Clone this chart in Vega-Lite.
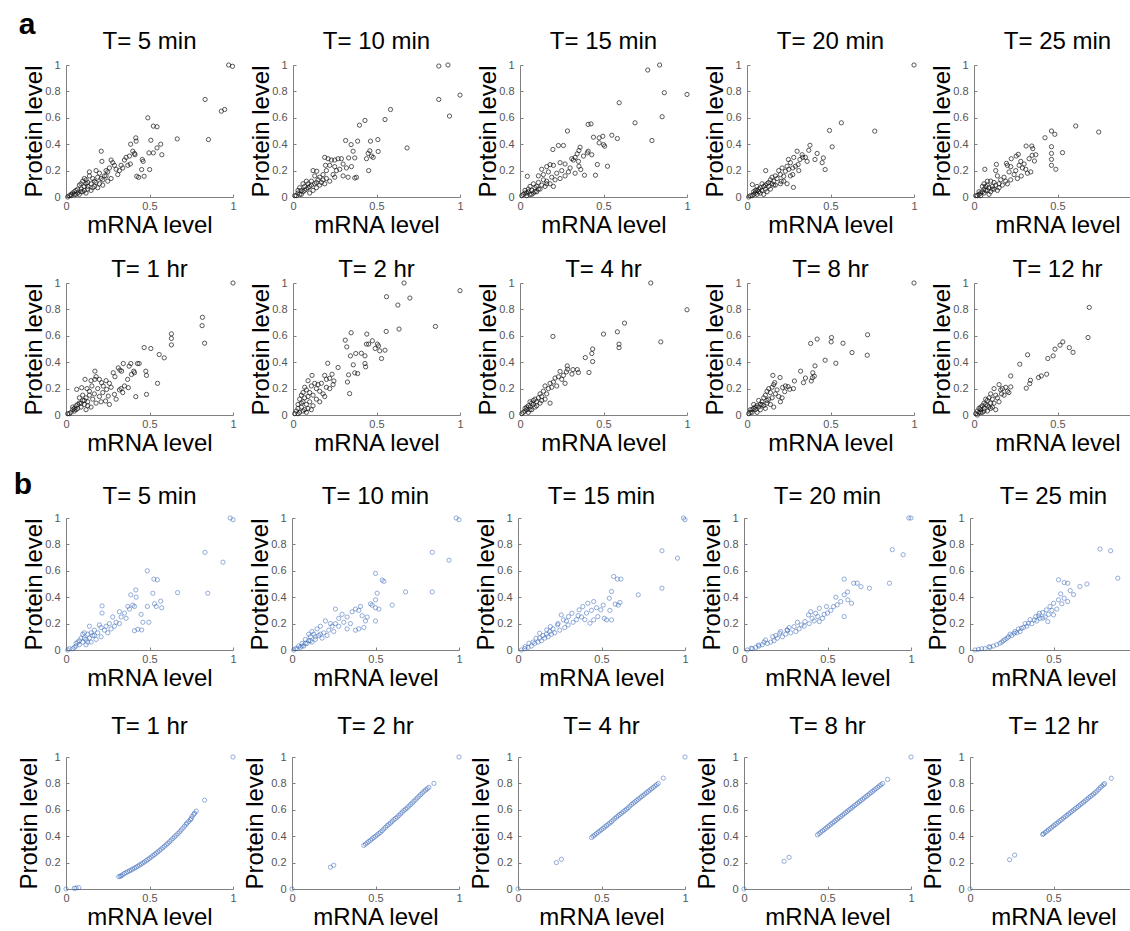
{
"$schema":"https://vega.github.io/schema/vega-lite/v6.json",
"padding":{"left":13,"top":10,"right":0,"bottom":0},
"config":{"view":{"stroke":null},"font":"Liberation Sans",
"axis":{"grid":false,"domainColor":"#808080","tickColor":"#808080","labelColor":"#555555","labelFontSize":11,"titleFontSize":24,"titleFontWeight":"normal","titleColor":"#000000","tickSize":-3,"labelFont":"Liberation Sans","titleFont":"Liberation Sans"},
"header":{"labelFontSize":24,"labelColor":"#000000","labelFont":"Liberation Sans","title":null},
"title":{"fontSize":30,"fontWeight":"bold","anchor":"start","color":"#000000","font":"Liberation Sans"}},
"datasets":{"pts":[
{"p":1,"x":0.974,"y":1},{"p":1,"x":0.997,"y":0.99},{"p":1,"x":0.833,"y":0.739},{"p":1,"x":0.93,"y":0.65},{"p":1,"x":0.95,"y":0.663},{"p":1,"x":0.853,"y":0.435},{"p":1,"x":0.666,"y":0.44},{"p":1,"x":0.49,"y":0.6},{"p":1,"x":0.523,"y":0.537},{"p":1,"x":0.545,"y":0.532},{"p":1,"x":0.508,"y":0.43},{"p":1,"x":0.567,"y":0.4},{"p":1,"x":0.545,"y":0.372},{"p":1,"x":0.523,"y":0.334},{"p":1,"x":0.497,"y":0.334},{"p":1,"x":0.574,"y":0.32},{"p":1,"x":0.501,"y":0.208},{"p":1,"x":0.468,"y":0.157},{"p":1,"x":0.435,"y":0.149},{"p":1,"x":0.424,"y":0.157},{"p":1,"x":0.453,"y":0.208},{"p":1,"x":0.457,"y":0.284},{"p":1,"x":0.462,"y":0.27},{"p":1,"x":0.418,"y":0.448},{"p":1,"x":0.42,"y":0.423},{"p":1,"x":0.387,"y":0.4},{"p":1,"x":0.4,"y":0.347},{"p":1,"x":0.413,"y":0.32},{"p":1,"x":0.41,"y":0.33},{"p":1,"x":0.38,"y":0.31},{"p":1,"x":0.36,"y":0.3},{"p":1,"x":0.35,"y":0.28},{"p":1,"x":0.37,"y":0.24},{"p":1,"x":0.385,"y":0.25},{"p":1,"x":0.34,"y":0.22},{"p":1,"x":0.33,"y":0.24},{"p":1,"x":0.32,"y":0.2},{"p":1,"x":0.31,"y":0.17},{"p":1,"x":0.3,"y":0.21},{"p":1,"x":0.29,"y":0.24},{"p":1,"x":0.28,"y":0.26},{"p":1,"x":0.27,"y":0.28},{"p":1,"x":0.26,"y":0.22},{"p":1,"x":0.25,"y":0.19},{"p":1,"x":0.24,"y":0.2},{"p":1,"x":0.211,"y":0.347},{"p":1,"x":0.215,"y":0.27},{"p":1,"x":0.23,"y":0.16},{"p":1,"x":0.22,"y":0.13},{"p":1,"x":0.2,"y":0.18},{"p":1,"x":0.19,"y":0.15},{"p":1,"x":0.18,"y":0.2},{"p":1,"x":0.17,"y":0.12},{"p":1,"x":0.16,"y":0.14},{"p":1,"x":0.15,"y":0.1},{"p":1,"x":0.14,"y":0.16},{"p":1,"x":0.13,"y":0.11},{"p":1,"x":0.12,"y":0.13},{"p":1,"x":0.11,"y":0.08},{"p":1,"x":0.1,"y":0.12},{"p":1,"x":0.09,"y":0.06},{"p":1,"x":0.1,"y":0.04},{"p":1,"x":0.08,"y":0.09},{"p":1,"x":0.07,"y":0.03},{"p":1,"x":0.06,"y":0.05},{"p":1,"x":0.05,"y":0.02},{"p":1,"x":0.04,"y":0.03},{"p":1,"x":0.03,"y":0.01},{"p":1,"x":0.02,"y":0.01},{"p":1,"x":0.01,"y":0},{"p":1,"x":0.13,"y":0.06},{"p":1,"x":0.15,"y":0.05},{"p":1,"x":0.17,"y":0.08},{"p":1,"x":0.12,"y":0.03},{"p":1,"x":0.08,"y":0.02},{"p":1,"x":0.2,"y":0.1},{"p":1,"x":0.22,"y":0.09},{"p":1,"x":0.19,"y":0.07},{"p":1,"x":0.25,"y":0.12},{"p":1,"x":0.27,"y":0.14},{"p":1,"x":0.14,"y":0.19},{"p":1,"x":0.09,"y":0.1},{"p":1,"x":0.11,"y":0.14},{"p":1,"x":0.06,"y":0.02},{"p":1,"x":0.07,"y":0.06},{"p":1,"x":0.09,"y":0.04},{"p":1,"x":0.11,"y":0.05},{"p":1,"x":0.13,"y":0.08},{"p":1,"x":0.16,"y":0.07},{"p":1,"x":0.18,"y":0.11},{"p":1,"x":0.05,"y":0.04},{"p":1,"x":0.03,"y":0.02},{"p":1,"x":0.12,"y":0.1},{"p":1,"x":0.21,"y":0.14},{"p":1,"x":0.24,"y":0.16},
{"p":2,"x":0.873,"y":0.992},{"p":2,"x":0.928,"y":1},{"p":2,"x":0.873,"y":0.739},{"p":2,"x":0.937,"y":0.613},{"p":2,"x":1,"y":0.772},{"p":2,"x":0.683,"y":0.372},{"p":2,"x":0.584,"y":0.663},{"p":2,"x":0.551,"y":0.587},{"p":2,"x":0.398,"y":0.544},{"p":2,"x":0.431,"y":0.58},{"p":2,"x":0.315,"y":0.428},{"p":2,"x":0.348,"y":0.397},{"p":2,"x":0.387,"y":0.423},{"p":2,"x":0.464,"y":0.423},{"p":2,"x":0.508,"y":0.435},{"p":2,"x":0.46,"y":0.35},{"p":2,"x":0.45,"y":0.33},{"p":2,"x":0.47,"y":0.31},{"p":2,"x":0.44,"y":0.29},{"p":2,"x":0.48,"y":0.3},{"p":2,"x":0.51,"y":0.345},{"p":2,"x":0.453,"y":0.2},{"p":2,"x":0.36,"y":0.347},{"p":2,"x":0.37,"y":0.296},{"p":2,"x":0.333,"y":0.296},{"p":2,"x":0.32,"y":0.22},{"p":2,"x":0.37,"y":0.144},{"p":2,"x":0.38,"y":0.149},{"p":2,"x":0.19,"y":0.3},{"p":2,"x":0.21,"y":0.29},{"p":2,"x":0.23,"y":0.28},{"p":2,"x":0.25,"y":0.28},{"p":2,"x":0.27,"y":0.29},{"p":2,"x":0.29,"y":0.29},{"p":2,"x":0.195,"y":0.24},{"p":2,"x":0.22,"y":0.24},{"p":2,"x":0.142,"y":0.195},{"p":2,"x":0.12,"y":0.2},{"p":2,"x":0.3,"y":0.25},{"p":2,"x":0.28,"y":0.21},{"p":2,"x":0.26,"y":0.2},{"p":2,"x":0.24,"y":0.17},{"p":2,"x":0.3,"y":0.16},{"p":2,"x":0.33,"y":0.15},{"p":2,"x":0.35,"y":0.23},{"p":2,"x":0.25,"y":0.23},{"p":2,"x":0.2,"y":0.2},{"p":2,"x":0.18,"y":0.17},{"p":2,"x":0.16,"y":0.15},{"p":2,"x":0.2,"y":0.14},{"p":2,"x":0.17,"y":0.11},{"p":2,"x":0.15,"y":0.13},{"p":2,"x":0.13,"y":0.1},{"p":2,"x":0.11,"y":0.12},{"p":2,"x":0.1,"y":0.08},{"p":2,"x":0.09,"y":0.1},{"p":2,"x":0.08,"y":0.06},{"p":2,"x":0.07,"y":0.08},{"p":2,"x":0.06,"y":0.04},{"p":2,"x":0.05,"y":0.05},{"p":2,"x":0.04,"y":0.02},{"p":2,"x":0.03,"y":0.03},{"p":2,"x":0.02,"y":0.01},{"p":2,"x":0.01,"y":0.01},{"p":2,"x":0.12,"y":0.05},{"p":2,"x":0.14,"y":0.07},{"p":2,"x":0.16,"y":0.09},{"p":2,"x":0.1,"y":0.03},{"p":2,"x":0.08,"y":0.12},{"p":2,"x":0.06,"y":0.1},{"p":2,"x":0.22,"y":0.12},{"p":2,"x":0.19,"y":0.1},{"p":2,"x":0.25,"y":0.15},{"p":2,"x":0.13,"y":0.16},{"p":2,"x":0.05,"y":0.02},{"p":2,"x":0.07,"y":0.05},{"p":2,"x":0.09,"y":0.07},{"p":2,"x":0.11,"y":0.09},{"p":2,"x":0.14,"y":0.11},{"p":2,"x":0.03,"y":0.05},{"p":2,"x":0.04,"y":0.07},{"p":2,"x":0.18,"y":0.13},
{"p":3,"x":0.765,"y":0.962},{"p":3,"x":0.836,"y":1},{"p":3,"x":0.864,"y":0.79},{"p":3,"x":1,"y":0.777},{"p":3,"x":0.851,"y":0.608},{"p":3,"x":0.594,"y":0.714},{"p":3,"x":0.689,"y":0.562},{"p":3,"x":0.79,"y":0.428},{"p":3,"x":0.524,"y":0.233},{"p":3,"x":0.452,"y":0.165},{"p":3,"x":0.55,"y":0.468},{"p":3,"x":0.583,"y":0.443},{"p":3,"x":0.496,"y":0.46},{"p":3,"x":0.474,"y":0.41},{"p":3,"x":0.5,"y":0.397},{"p":3,"x":0.507,"y":0.385},{"p":3,"x":0.44,"y":0.453},{"p":3,"x":0.474,"y":0.448},{"p":3,"x":0.408,"y":0.55},{"p":3,"x":0.425,"y":0.554},{"p":3,"x":0.403,"y":0.334},{"p":3,"x":0.408,"y":0.347},{"p":3,"x":0.463,"y":0.246},{"p":3,"x":0.364,"y":0.208},{"p":3,"x":0.353,"y":0.233},{"p":3,"x":0.386,"y":0.165},{"p":3,"x":0.353,"y":0.352},{"p":3,"x":0.342,"y":0.327},{"p":3,"x":0.36,"y":0.377},{"p":3,"x":0.31,"y":0.29},{"p":3,"x":0.33,"y":0.3},{"p":3,"x":0.32,"y":0.28},{"p":3,"x":0.284,"y":0.5},{"p":3,"x":0.197,"y":0.36},{"p":3,"x":0.23,"y":0.39},{"p":3,"x":0.26,"y":0.39},{"p":3,"x":0.13,"y":0.21},{"p":3,"x":0.16,"y":0.23},{"p":3,"x":0.18,"y":0.245},{"p":3,"x":0.044,"y":0.157},{"p":3,"x":0.11,"y":0.16},{"p":3,"x":0.14,"y":0.17},{"p":3,"x":0.2,"y":0.24},{"p":3,"x":0.24,"y":0.26},{"p":3,"x":0.27,"y":0.25},{"p":3,"x":0.3,"y":0.22},{"p":3,"x":0.29,"y":0.19},{"p":3,"x":0.25,"y":0.2},{"p":3,"x":0.22,"y":0.18},{"p":3,"x":0.19,"y":0.15},{"p":3,"x":0.16,"y":0.12},{"p":3,"x":0.21,"y":0.13},{"p":3,"x":0.24,"y":0.14},{"p":3,"x":0.27,"y":0.16},{"p":3,"x":0.13,"y":0.09},{"p":3,"x":0.11,"y":0.11},{"p":3,"x":0.09,"y":0.07},{"p":3,"x":0.08,"y":0.1},{"p":3,"x":0.07,"y":0.05},{"p":3,"x":0.06,"y":0.08},{"p":3,"x":0.05,"y":0.04},{"p":3,"x":0.04,"y":0.03},{"p":3,"x":0.03,"y":0.05},{"p":3,"x":0.02,"y":0.02},{"p":3,"x":0.01,"y":0.01},{"p":3,"x":0.1,"y":0.04},{"p":3,"x":0.12,"y":0.06},{"p":3,"x":0.15,"y":0.08},{"p":3,"x":0.18,"y":0.1},{"p":3,"x":0.2,"y":0.08},{"p":3,"x":0.14,"y":0.13},{"p":3,"x":0.17,"y":0.19},{"p":3,"x":0.06,"y":0.02},{"p":3,"x":0.08,"y":0.03},{"p":3,"x":0.35,"y":0.27},{"p":3,"x":0.38,"y":0.31},{"p":3,"x":0.43,"y":0.32},{"p":3,"x":0.33,"y":0.18},{"p":3,"x":0.04,"y":0.01},{"p":3,"x":0.07,"y":0.02},{"p":3,"x":0.09,"y":0.04},{"p":3,"x":0.11,"y":0.06},{"p":3,"x":0.03,"y":0.03},{"p":3,"x":0.05,"y":0.06},{"p":3,"x":0.1,"y":0.08},{"p":3,"x":0.16,"y":0.1},
{"p":4,"x":1,"y":1},{"p":4,"x":0.565,"y":0.562},{"p":4,"x":0.494,"y":0.504},{"p":4,"x":0.765,"y":0.499},{"p":4,"x":0.51,"y":0.38},{"p":4,"x":0.468,"y":0.208},{"p":4,"x":0.457,"y":0.296},{"p":4,"x":0.407,"y":0.284},{"p":4,"x":0.377,"y":0.392},{"p":4,"x":0.37,"y":0.354},{"p":4,"x":0.33,"y":0.32},{"p":4,"x":0.317,"y":0.284},{"p":4,"x":0.334,"y":0.3},{"p":4,"x":0.306,"y":0.246},{"p":4,"x":0.29,"y":0.233},{"p":4,"x":0.3,"y":0.347},{"p":4,"x":0.248,"y":0.284},{"p":4,"x":0.24,"y":0.233},{"p":4,"x":0.274,"y":0.22},{"p":4,"x":0.274,"y":0.17},{"p":4,"x":0.278,"y":0.073},{"p":4,"x":0.23,"y":0.195},{"p":4,"x":0.22,"y":0.157},{"p":4,"x":0.205,"y":0.119},{"p":4,"x":0.112,"y":0.2},{"p":4,"x":0.032,"y":0.094},{"p":4,"x":0.26,"y":0.26},{"p":4,"x":0.28,"y":0.3},{"p":4,"x":0.35,"y":0.3},{"p":4,"x":0.36,"y":0.27},{"p":4,"x":0.25,"y":0.21},{"p":4,"x":0.2,"y":0.17},{"p":4,"x":0.19,"y":0.2},{"p":4,"x":0.18,"y":0.14},{"p":4,"x":0.17,"y":0.16},{"p":4,"x":0.16,"y":0.12},{"p":4,"x":0.15,"y":0.1},{"p":4,"x":0.14,"y":0.13},{"p":4,"x":0.13,"y":0.08},{"p":4,"x":0.12,"y":0.1},{"p":4,"x":0.11,"y":0.06},{"p":4,"x":0.1,"y":0.08},{"p":4,"x":0.09,"y":0.05},{"p":4,"x":0.08,"y":0.07},{"p":4,"x":0.07,"y":0.04},{"p":4,"x":0.06,"y":0.05},{"p":4,"x":0.05,"y":0.03},{"p":4,"x":0.04,"y":0.02},{"p":4,"x":0.03,"y":0.01},{"p":4,"x":0.02,"y":0.01},{"p":4,"x":0.01,"y":0},{"p":4,"x":0.12,"y":0.04},{"p":4,"x":0.14,"y":0.06},{"p":4,"x":0.17,"y":0.09},{"p":4,"x":0.2,"y":0.1},{"p":4,"x":0.22,"y":0.12},{"p":4,"x":0.09,"y":0.1},{"p":4,"x":0.06,"y":0.08},{"p":4,"x":0.15,"y":0.15},{"p":4,"x":0.21,"y":0.22},{"p":4,"x":0.26,"y":0.16},{"p":4,"x":0.31,"y":0.2},{"p":4,"x":0.24,"y":0.1},{"p":4,"x":0.1,"y":0.02},{"p":4,"x":0.08,"y":0.03},{"p":4,"x":0.42,"y":0.33},{"p":4,"x":0.45,"y":0.26},{"p":4,"x":0.05,"y":0.05},{"p":4,"x":0.07,"y":0.06},{"p":4,"x":0.11,"y":0.09},{"p":4,"x":0.13,"y":0.11},{"p":4,"x":0.04,"y":0.04},{"p":4,"x":0.06,"y":0.02},{"p":4,"x":0.16,"y":0.09},
{"p":5,"x":0.747,"y":0.492},{"p":5,"x":0.609,"y":0.538},{"p":5,"x":0.464,"y":0.5},{"p":5,"x":0.484,"y":0.475},{"p":5,"x":0.425,"y":0.449},{"p":5,"x":0.464,"y":0.381},{"p":5,"x":0.464,"y":0.33},{"p":5,"x":0.53,"y":0.336},{"p":5,"x":0.464,"y":0.285},{"p":5,"x":0.464,"y":0.24},{"p":5,"x":0.49,"y":0.21},{"p":5,"x":0.312,"y":0.386},{"p":5,"x":0.346,"y":0.386},{"p":5,"x":0.352,"y":0.366},{"p":5,"x":0.348,"y":0.316},{"p":5,"x":0.362,"y":0.273},{"p":5,"x":0.283,"y":0.159},{"p":5,"x":0.265,"y":0.323},{"p":5,"x":0.253,"y":0.31},{"p":5,"x":0.223,"y":0.29},{"p":5,"x":0.194,"y":0.255},{"p":5,"x":0.2,"y":0.24},{"p":5,"x":0.22,"y":0.23},{"p":5,"x":0.134,"y":0.247},{"p":5,"x":0.065,"y":0.21},{"p":5,"x":0.32,"y":0.18},{"p":5,"x":0.34,"y":0.19},{"p":5,"x":0.31,"y":0.21},{"p":5,"x":0.29,"y":0.22},{"p":5,"x":0.3,"y":0.25},{"p":5,"x":0.27,"y":0.24},{"p":5,"x":0.25,"y":0.2},{"p":5,"x":0.24,"y":0.17},{"p":5,"x":0.21,"y":0.19},{"p":5,"x":0.18,"y":0.15},{"p":5,"x":0.19,"y":0.12},{"p":5,"x":0.16,"y":0.13},{"p":5,"x":0.15,"y":0.1},{"p":5,"x":0.14,"y":0.16},{"p":5,"x":0.12,"y":0.11},{"p":5,"x":0.11,"y":0.08},{"p":5,"x":0.1,"y":0.12},{"p":5,"x":0.09,"y":0.07},{"p":5,"x":0.08,"y":0.09},{"p":5,"x":0.07,"y":0.05},{"p":5,"x":0.06,"y":0.06},{"p":5,"x":0.05,"y":0.04},{"p":5,"x":0.04,"y":0.03},{"p":5,"x":0.03,"y":0.02},{"p":5,"x":0.02,"y":0.01},{"p":5,"x":0.01,"y":0.01},{"p":5,"x":0.1,"y":0.04},{"p":5,"x":0.12,"y":0.06},{"p":5,"x":0.15,"y":0.07},{"p":5,"x":0.17,"y":0.09},{"p":5,"x":0.2,"y":0.1},{"p":5,"x":0.22,"y":0.13},{"p":5,"x":0.08,"y":0.12},{"p":5,"x":0.06,"y":0.1},{"p":5,"x":0.13,"y":0.2},{"p":5,"x":0.26,"y":0.14},{"p":5,"x":0.33,"y":0.29},{"p":5,"x":0.37,"y":0.32},{"p":5,"x":0.28,"y":0.27},{"p":5,"x":0.05,"y":0.08},{"p":5,"x":0.09,"y":0.02},{"p":5,"x":0.04,"y":0.01},{"p":5,"x":0.06,"y":0.03},{"p":5,"x":0.08,"y":0.05},{"p":5,"x":0.11,"y":0.06},{"p":5,"x":0.13,"y":0.09},{"p":5,"x":0.03,"y":0.04},{"p":5,"x":0.07,"y":0.08},{"p":5,"x":0.14,"y":0.05},
{"p":6,"x":1,"y":1},{"p":6,"x":0.817,"y":0.74},{"p":6,"x":0.815,"y":0.677},{"p":6,"x":0.83,"y":0.544},{"p":6,"x":0.631,"y":0.615},{"p":6,"x":0.631,"y":0.58},{"p":6,"x":0.631,"y":0.531},{"p":6,"x":0.558,"y":0.458},{"p":6,"x":0.588,"y":0.433},{"p":6,"x":0.548,"y":0.24},{"p":6,"x":0.468,"y":0.511},{"p":6,"x":0.508,"y":0.504},{"p":6,"x":0.478,"y":0.332},{"p":6,"x":0.482,"y":0.3},{"p":6,"x":0.428,"y":0.39},{"p":6,"x":0.438,"y":0.39},{"p":6,"x":0.388,"y":0.39},{"p":6,"x":0.378,"y":0.37},{"p":6,"x":0.406,"y":0.332},{"p":6,"x":0.41,"y":0.32},{"p":6,"x":0.482,"y":0.156},{"p":6,"x":0.418,"y":0.139},{"p":6,"x":0.343,"y":0.39},{"p":6,"x":0.313,"y":0.357},{"p":6,"x":0.323,"y":0.34},{"p":6,"x":0.333,"y":0.332},{"p":6,"x":0.293,"y":0.29},{"p":6,"x":0.283,"y":0.32},{"p":6,"x":0.392,"y":0.307},{"p":6,"x":0.369,"y":0.27},{"p":6,"x":0.373,"y":0.207},{"p":6,"x":0.33,"y":0.2},{"p":6,"x":0.34,"y":0.17},{"p":6,"x":0.32,"y":0.19},{"p":6,"x":0.35,"y":0.22},{"p":6,"x":0.29,"y":0.156},{"p":6,"x":0.253,"y":0.143},{"p":6,"x":0.237,"y":0.106},{"p":6,"x":0.243,"y":0.194},{"p":6,"x":0.223,"y":0.219},{"p":6,"x":0.213,"y":0.244},{"p":6,"x":0.173,"y":0.332},{"p":6,"x":0.173,"y":0.27},{"p":6,"x":0.18,"y":0.29},{"p":6,"x":0.2,"y":0.27},{"p":6,"x":0.15,"y":0.26},{"p":6,"x":0.155,"y":0.22},{"p":6,"x":0.126,"y":0.2},{"p":6,"x":0.114,"y":0.27},{"p":6,"x":0.094,"y":0.207},{"p":6,"x":0.064,"y":0.194},{"p":6,"x":0.27,"y":0.21},{"p":6,"x":0.26,"y":0.24},{"p":6,"x":0.24,"y":0.26},{"p":6,"x":0.22,"y":0.17},{"p":6,"x":0.2,"y":0.14},{"p":6,"x":0.19,"y":0.2},{"p":6,"x":0.17,"y":0.16},{"p":6,"x":0.16,"y":0.12},{"p":6,"x":0.14,"y":0.15},{"p":6,"x":0.13,"y":0.1},{"p":6,"x":0.12,"y":0.13},{"p":6,"x":0.11,"y":0.08},{"p":6,"x":0.1,"y":0.11},{"p":6,"x":0.09,"y":0.06},{"p":6,"x":0.08,"y":0.09},{"p":6,"x":0.07,"y":0.05},{"p":6,"x":0.06,"y":0.07},{"p":6,"x":0.05,"y":0.03},{"p":6,"x":0.04,"y":0.04},{"p":6,"x":0.03,"y":0.02},{"p":6,"x":0.02,"y":0.01},{"p":6,"x":0.01,"y":0.01},{"p":6,"x":0.15,"y":0.06},{"p":6,"x":0.18,"y":0.09},{"p":6,"x":0.21,"y":0.1},{"p":6,"x":0.12,"y":0.04},{"p":6,"x":0.1,"y":0.15},{"p":6,"x":0.08,"y":0.13},{"p":6,"x":0.14,"y":0.18},{"p":6,"x":0.3,"y":0.12},{"p":6,"x":0.26,"y":0.08},{"p":6,"x":0.05,"y":0.05},{"p":6,"x":0.07,"y":0.08},{"p":6,"x":0.09,"y":0.09},{"p":6,"x":0.11,"y":0.11},{"p":6,"x":0.04,"y":0.06},{"p":6,"x":0.06,"y":0.04},{"p":6,"x":0.13,"y":0.07},
{"p":7,"x":1,"y":0.942},{"p":7,"x":0.665,"y":1},{"p":7,"x":0.56,"y":0.896},{"p":7,"x":0.7,"y":0.886},{"p":7,"x":0.628,"y":0.833},{"p":7,"x":0.853,"y":0.671},{"p":7,"x":0.635,"y":0.651},{"p":7,"x":0.558,"y":0.633},{"p":7,"x":0.313,"y":0.567},{"p":7,"x":0.348,"y":0.623},{"p":7,"x":0.442,"y":0.613},{"p":7,"x":0.475,"y":0.562},{"p":7,"x":0.505,"y":0.537},{"p":7,"x":0.512,"y":0.524},{"p":7,"x":0.492,"y":0.504},{"p":7,"x":0.44,"y":0.537},{"p":7,"x":0.453,"y":0.537},{"p":7,"x":0.551,"y":0.491},{"p":7,"x":0.519,"y":0.486},{"p":7,"x":0.53,"y":0.428},{"p":7,"x":0.376,"y":0.466},{"p":7,"x":0.409,"y":0.468},{"p":7,"x":0.431,"y":0.448},{"p":7,"x":0.431,"y":0.39},{"p":7,"x":0.435,"y":0.365},{"p":7,"x":0.322,"y":0.516},{"p":7,"x":0.344,"y":0.448},{"p":7,"x":0.361,"y":0.38},{"p":7,"x":0.37,"y":0.319},{"p":7,"x":0.387,"y":0.314},{"p":7,"x":0.333,"y":0.304},{"p":7,"x":0.326,"y":0.25},{"p":7,"x":0.339,"y":0.162},{"p":7,"x":0.208,"y":0.392},{"p":7,"x":0.234,"y":0.309},{"p":7,"x":0.219,"y":0.278},{"p":7,"x":0.245,"y":0.258},{"p":7,"x":0.27,"y":0.36},{"p":7,"x":0.19,"y":0.3},{"p":7,"x":0.2,"y":0.27},{"p":7,"x":0.17,"y":0.24},{"p":7,"x":0.15,"y":0.23},{"p":7,"x":0.2,"y":0.21},{"p":7,"x":0.114,"y":0.3},{"p":7,"x":0.09,"y":0.26},{"p":7,"x":0.13,"y":0.24},{"p":7,"x":0.11,"y":0.22},{"p":7,"x":0.14,"y":0.2},{"p":7,"x":0.16,"y":0.18},{"p":7,"x":0.18,"y":0.16},{"p":7,"x":0.19,"y":0.14},{"p":7,"x":0.07,"y":0.21},{"p":7,"x":0.08,"y":0.19},{"p":7,"x":0.06,"y":0.17},{"p":7,"x":0.05,"y":0.15},{"p":7,"x":0.1,"y":0.17},{"p":7,"x":0.12,"y":0.15},{"p":7,"x":0.14,"y":0.12},{"p":7,"x":0.16,"y":0.1},{"p":7,"x":0.04,"y":0.12},{"p":7,"x":0.06,"y":0.1},{"p":7,"x":0.08,"y":0.08},{"p":7,"x":0.1,"y":0.1},{"p":7,"x":0.12,"y":0.07},{"p":7,"x":0.03,"y":0.08},{"p":7,"x":0.05,"y":0.06},{"p":7,"x":0.07,"y":0.04},{"p":7,"x":0.09,"y":0.05},{"p":7,"x":0.02,"y":0.03},{"p":7,"x":0.04,"y":0.02},{"p":7,"x":0.01,"y":0.01},{"p":7,"x":0.03,"y":0.01},{"p":7,"x":0.06,"y":0.03},{"p":7,"x":0.11,"y":0.04},{"p":7,"x":0.22,"y":0.2},{"p":7,"x":0.24,"y":0.23},{"p":7,"x":0.05,"y":0.09},{"p":7,"x":0.07,"y":0.13},{"p":7,"x":0.09,"y":0.14},{"p":7,"x":0.03,"y":0.05},{"p":7,"x":0.08,"y":0.02},
{"p":8,"x":0.783,"y":1},{"p":8,"x":1,"y":0.797},{"p":8,"x":0.843,"y":0.554},{"p":8,"x":0.626,"y":0.696},{"p":8,"x":0.583,"y":0.63},{"p":8,"x":0.5,"y":0.613},{"p":8,"x":0.593,"y":0.537},{"p":8,"x":0.593,"y":0.51},{"p":8,"x":0.43,"y":0.466},{"p":8,"x":0.435,"y":0.5},{"p":8,"x":0.435,"y":0.405},{"p":8,"x":0.413,"y":0.322},{"p":8,"x":0.391,"y":0.435},{"p":8,"x":0.343,"y":0.344},{"p":8,"x":0.35,"y":0.322},{"p":8,"x":0.317,"y":0.344},{"p":8,"x":0.311,"y":0.31},{"p":8,"x":0.283,"y":0.372},{"p":8,"x":0.285,"y":0.347},{"p":8,"x":0.278,"y":0.327},{"p":8,"x":0.197,"y":0.595},{"p":8,"x":0.26,"y":0.3},{"p":8,"x":0.24,"y":0.33},{"p":8,"x":0.23,"y":0.29},{"p":8,"x":0.25,"y":0.27},{"p":8,"x":0.21,"y":0.28},{"p":8,"x":0.2,"y":0.25},{"p":8,"x":0.18,"y":0.24},{"p":8,"x":0.19,"y":0.21},{"p":8,"x":0.17,"y":0.2},{"p":8,"x":0.15,"y":0.22},{"p":8,"x":0.14,"y":0.18},{"p":8,"x":0.16,"y":0.16},{"p":8,"x":0.12,"y":0.16},{"p":8,"x":0.11,"y":0.13},{"p":8,"x":0.13,"y":0.14},{"p":8,"x":0.1,"y":0.1},{"p":8,"x":0.09,"y":0.12},{"p":8,"x":0.08,"y":0.08},{"p":8,"x":0.07,"y":0.09},{"p":8,"x":0.06,"y":0.06},{"p":8,"x":0.05,"y":0.07},{"p":8,"x":0.04,"y":0.04},{"p":8,"x":0.03,"y":0.03},{"p":8,"x":0.02,"y":0.02},{"p":8,"x":0.01,"y":0.01},{"p":8,"x":0.05,"y":0.02},{"p":8,"x":0.07,"y":0.04},{"p":8,"x":0.09,"y":0.06},{"p":8,"x":0.12,"y":0.09},{"p":8,"x":0.15,"y":0.12},{"p":8,"x":0.22,"y":0.22},{"p":8,"x":0.27,"y":0.24},{"p":8,"x":0.08,"y":0.11},{"p":8,"x":0.03,"y":0.05},{"p":8,"x":0.18,"y":0.09},{"p":8,"x":0.06,"y":0.1},{"p":8,"x":0.04,"y":0.06},{"p":8,"x":0.06,"y":0.04},{"p":8,"x":0.1,"y":0.07},{"p":8,"x":0.13,"y":0.11},
{"p":9,"x":1,"y":1},{"p":9,"x":0.722,"y":0.608},{"p":9,"x":0.72,"y":0.453},{"p":9,"x":0.629,"y":0.473},{"p":9,"x":0.575,"y":0.544},{"p":9,"x":0.532,"y":0.392},{"p":9,"x":0.506,"y":0.587},{"p":9,"x":0.504,"y":0.554},{"p":9,"x":0.468,"y":0.415},{"p":9,"x":0.381,"y":0.542},{"p":9,"x":0.42,"y":0.575},{"p":9,"x":0.407,"y":0.372},{"p":9,"x":0.394,"y":0.32},{"p":9,"x":0.385,"y":0.258},{"p":9,"x":0.392,"y":0.283},{"p":9,"x":0.403,"y":0.294},{"p":9,"x":0.338,"y":0.245},{"p":9,"x":0.321,"y":0.332},{"p":9,"x":0.284,"y":0.258},{"p":9,"x":0.278,"y":0.2},{"p":9,"x":0.256,"y":0.195},{"p":9,"x":0.246,"y":0.215},{"p":9,"x":0.23,"y":0.22},{"p":9,"x":0.213,"y":0.208},{"p":9,"x":0.226,"y":0.177},{"p":9,"x":0.198,"y":0.284},{"p":9,"x":0.155,"y":0.3},{"p":9,"x":0.166,"y":0.245},{"p":9,"x":0.16,"y":0.23},{"p":9,"x":0.15,"y":0.21},{"p":9,"x":0.18,"y":0.19},{"p":9,"x":0.17,"y":0.16},{"p":9,"x":0.19,"y":0.14},{"p":9,"x":0.13,"y":0.2},{"p":9,"x":0.14,"y":0.17},{"p":9,"x":0.12,"y":0.18},{"p":9,"x":0.15,"y":0.13},{"p":9,"x":0.11,"y":0.15},{"p":9,"x":0.13,"y":0.12},{"p":9,"x":0.1,"y":0.13},{"p":9,"x":0.12,"y":0.09},{"p":9,"x":0.09,"y":0.1},{"p":9,"x":0.1,"y":0.07},{"p":9,"x":0.08,"y":0.08},{"p":9,"x":0.07,"y":0.06},{"p":9,"x":0.06,"y":0.07},{"p":9,"x":0.05,"y":0.04},{"p":9,"x":0.04,"y":0.05},{"p":9,"x":0.03,"y":0.02},{"p":9,"x":0.02,"y":0.02},{"p":9,"x":0.01,"y":0.01},{"p":9,"x":0.06,"y":0.02},{"p":9,"x":0.08,"y":0.04},{"p":9,"x":0.11,"y":0.05},{"p":9,"x":0.14,"y":0.08},{"p":9,"x":0.16,"y":0.06},{"p":9,"x":0.2,"y":0.1},{"p":9,"x":0.04,"y":0.08},{"p":9,"x":0.07,"y":0.11},{"p":9,"x":0.21,"y":0.13},{"p":9,"x":0.35,"y":0.28},{"p":9,"x":0.03,"y":0.04},{"p":9,"x":0.05,"y":0.06},{"p":9,"x":0.09,"y":0.08},{"p":9,"x":0.12,"y":0.11},{"p":9,"x":0.02,"y":0.04},
{"p":10,"x":0.69,"y":0.815},{"p":10,"x":0.683,"y":0.587},{"p":10,"x":0.532,"y":0.554},{"p":10,"x":0.515,"y":0.529},{"p":10,"x":0.485,"y":0.499},{"p":10,"x":0.571,"y":0.51},{"p":10,"x":0.593,"y":0.475},{"p":10,"x":0.442,"y":0.428},{"p":10,"x":0.474,"y":0.448},{"p":10,"x":0.321,"y":0.456},{"p":10,"x":0.274,"y":0.385},{"p":10,"x":0.435,"y":0.309},{"p":10,"x":0.403,"y":0.296},{"p":10,"x":0.386,"y":0.284},{"p":10,"x":0.338,"y":0.263},{"p":10,"x":0.313,"y":0.203},{"p":10,"x":0.334,"y":0.238},{"p":10,"x":0.22,"y":0.296},{"p":10,"x":0.22,"y":0.213},{"p":10,"x":0.209,"y":0.17},{"p":10,"x":0.15,"y":0.23},{"p":10,"x":0.16,"y":0.19},{"p":10,"x":0.17,"y":0.2},{"p":10,"x":0.165,"y":0.16},{"p":10,"x":0.18,"y":0.15},{"p":10,"x":0.15,"y":0.1},{"p":10,"x":0.12,"y":0.2},{"p":10,"x":0.13,"y":0.15},{"p":10,"x":0.14,"y":0.13},{"p":10,"x":0.12,"y":0.09},{"p":10,"x":0.1,"y":0.16},{"p":10,"x":0.11,"y":0.12},{"p":10,"x":0.1,"y":0.09},{"p":10,"x":0.09,"y":0.06},{"p":10,"x":0.08,"y":0.11},{"p":10,"x":0.07,"y":0.08},{"p":10,"x":0.06,"y":0.05},{"p":10,"x":0.07,"y":0.12},{"p":10,"x":0.05,"y":0.07},{"p":10,"x":0.04,"y":0.04},{"p":10,"x":0.03,"y":0.05},{"p":10,"x":0.03,"y":0.02},{"p":10,"x":0.02,"y":0.03},{"p":10,"x":0.01,"y":0.01},{"p":10,"x":0.02,"y":0},{"p":10,"x":0.05,"y":0.02},{"p":10,"x":0.08,"y":0.03},{"p":10,"x":0.11,"y":0.06},{"p":10,"x":0.13,"y":0.04},{"p":10,"x":0.19,"y":0.21},{"p":10,"x":0.2,"y":0.18},{"p":10,"x":0.06,"y":0.09},{"p":10,"x":0.09,"y":0.13},{"p":10,"x":0.04,"y":0.06},{"p":10,"x":0.06,"y":0.03},{"p":10,"x":0.08,"y":0.07},{"p":10,"x":0.1,"y":0.05},{"p":10,"x":0.04,"y":0.02},
{"p":11,"x":0.983,"y":1},{"p":11,"x":1,"y":0.987},{"p":11,"x":0.832,"y":0.74},{"p":11,"x":0.94,"y":0.665},{"p":11,"x":0.849,"y":0.43},{"p":11,"x":0.668,"y":0.435},{"p":11,"x":0.487,"y":0.6},{"p":11,"x":0.526,"y":0.537},{"p":11,"x":0.547,"y":0.532},{"p":11,"x":0.52,"y":0.43},{"p":11,"x":0.573,"y":0.32},{"p":11,"x":0.487,"y":0.33},{"p":11,"x":0.53,"y":0.35},{"p":11,"x":0.54,"y":0.33},{"p":11,"x":0.567,"y":0.37},{"p":11,"x":0.496,"y":0.21},{"p":11,"x":0.418,"y":0.455},{"p":11,"x":0.42,"y":0.4},{"p":11,"x":0.388,"y":0.418},{"p":11,"x":0.4,"y":0.34},{"p":11,"x":0.41,"y":0.33},{"p":11,"x":0.38,"y":0.31},{"p":11,"x":0.37,"y":0.33},{"p":11,"x":0.453,"y":0.152},{"p":11,"x":0.43,"y":0.157},{"p":11,"x":0.41,"y":0.146},{"p":11,"x":0.46,"y":0.21},{"p":11,"x":0.45,"y":0.27},{"p":11,"x":0.35,"y":0.28},{"p":11,"x":0.36,"y":0.24},{"p":11,"x":0.33,"y":0.25},{"p":11,"x":0.32,"y":0.2},{"p":11,"x":0.3,"y":0.21},{"p":11,"x":0.29,"y":0.18},{"p":11,"x":0.28,"y":0.25},{"p":11,"x":0.216,"y":0.334},{"p":11,"x":0.216,"y":0.28},{"p":11,"x":0.26,"y":0.2},{"p":11,"x":0.24,"y":0.18},{"p":11,"x":0.23,"y":0.15},{"p":11,"x":0.21,"y":0.17},{"p":11,"x":0.2,"y":0.19},{"p":11,"x":0.19,"y":0.13},{"p":11,"x":0.17,"y":0.15},{"p":11,"x":0.16,"y":0.11},{"p":11,"x":0.15,"y":0.13},{"p":11,"x":0.14,"y":0.09},{"p":11,"x":0.13,"y":0.12},{"p":11,"x":0.12,"y":0.08},{"p":11,"x":0.11,"y":0.13},{"p":11,"x":0.1,"y":0.06},{"p":11,"x":0.09,"y":0.09},{"p":11,"x":0.08,"y":0.04},{"p":11,"x":0.07,"y":0.06},{"p":11,"x":0.06,"y":0.03},{"p":11,"x":0.05,"y":0.02},{"p":11,"x":0.04,"y":0.01},{"p":11,"x":0.02,"y":0.01},{"p":11,"x":0.01,"y":0},{"p":11,"x":0.12,"y":0.04},{"p":11,"x":0.15,"y":0.06},{"p":11,"x":0.18,"y":0.08},{"p":11,"x":0.21,"y":0.1},{"p":11,"x":0.25,"y":0.13},{"p":11,"x":0.1,"y":0.12},{"p":11,"x":0.14,"y":0.18},{"p":11,"x":0.27,"y":0.16},{"p":11,"x":0.32,"y":0.29},{"p":11,"x":0.08,"y":0.07},{"p":11,"x":0.11,"y":0.09},{"p":11,"x":0.13,"y":0.06},{"p":11,"x":0.17,"y":0.11},{"p":11,"x":0.06,"y":0.05},
{"p":12,"x":0.983,"y":1},{"p":12,"x":1,"y":0.987},{"p":12,"x":0.84,"y":0.74},{"p":12,"x":0.94,"y":0.68},{"p":12,"x":0.84,"y":0.44},{"p":12,"x":0.68,"y":0.44},{"p":12,"x":0.5,"y":0.58},{"p":12,"x":0.54,"y":0.53},{"p":12,"x":0.55,"y":0.52},{"p":12,"x":0.51,"y":0.43},{"p":12,"x":0.6,"y":0.34},{"p":12,"x":0.5,"y":0.38},{"p":12,"x":0.48,"y":0.34},{"p":12,"x":0.5,"y":0.32},{"p":12,"x":0.52,"y":0.31},{"p":12,"x":0.47,"y":0.35},{"p":12,"x":0.41,"y":0.33},{"p":12,"x":0.4,"y":0.3},{"p":12,"x":0.38,"y":0.31},{"p":12,"x":0.36,"y":0.29},{"p":12,"x":0.42,"y":0.26},{"p":12,"x":0.5,"y":0.22},{"p":12,"x":0.45,"y":0.25},{"p":12,"x":0.44,"y":0.22},{"p":12,"x":0.43,"y":0.17},{"p":12,"x":0.4,"y":0.16},{"p":12,"x":0.38,"y":0.15},{"p":12,"x":0.33,"y":0.25},{"p":12,"x":0.3,"y":0.27},{"p":12,"x":0.28,"y":0.24},{"p":12,"x":0.31,"y":0.21},{"p":12,"x":0.26,"y":0.2},{"p":12,"x":0.24,"y":0.18},{"p":12,"x":0.2,"y":0.22},{"p":12,"x":0.22,"y":0.15},{"p":12,"x":0.19,"y":0.13},{"p":12,"x":0.17,"y":0.18},{"p":12,"x":0.15,"y":0.16},{"p":12,"x":0.16,"y":0.11},{"p":12,"x":0.13,"y":0.12},{"p":12,"x":0.14,"y":0.08},{"p":12,"x":0.11,"y":0.1},{"p":12,"x":0.12,"y":0.06},{"p":12,"x":0.1,"y":0.07},{"p":12,"x":0.09,"y":0.05},{"p":12,"x":0.08,"y":0.08},{"p":12,"x":0.07,"y":0.03},{"p":12,"x":0.06,"y":0.05},{"p":12,"x":0.05,"y":0.02},{"p":12,"x":0.04,"y":0.03},{"p":12,"x":0.03,"y":0.01},{"p":12,"x":0.02,"y":0.01},{"p":12,"x":0.01,"y":0},{"p":12,"x":0.18,"y":0.09},{"p":12,"x":0.21,"y":0.11},{"p":12,"x":0.25,"y":0.14},{"p":12,"x":0.28,"y":0.18},{"p":12,"x":0.35,"y":0.2},{"p":12,"x":0.33,"y":0.16},{"p":12,"x":0.1,"y":0.12},{"p":12,"x":0.12,"y":0.14},{"p":12,"x":0.26,"y":0.31},{"p":12,"x":0.23,"y":0.2},{"p":12,"x":0.08,"y":0.05},{"p":12,"x":0.11,"y":0.07},{"p":12,"x":0.14,"y":0.1},{"p":12,"x":0.17,"y":0.12},{"p":12,"x":0.06,"y":0.03},
{"p":13,"x":0.991,"y":1},{"p":13,"x":1,"y":0.987},{"p":13,"x":0.862,"y":0.752},{"p":13,"x":0.955,"y":0.696},{"p":13,"x":0.862,"y":0.468},{"p":13,"x":0.72,"y":0.418},{"p":13,"x":0.573,"y":0.557},{"p":13,"x":0.595,"y":0.537},{"p":13,"x":0.616,"y":0.537},{"p":13,"x":0.56,"y":0.443},{"p":13,"x":0.547,"y":0.392},{"p":13,"x":0.582,"y":0.347},{"p":13,"x":0.6,"y":0.34},{"p":13,"x":0.61,"y":0.36},{"p":13,"x":0.496,"y":0.304},{"p":13,"x":0.478,"y":0.253},{"p":13,"x":0.453,"y":0.228},{"p":13,"x":0.431,"y":0.203},{"p":13,"x":0.517,"y":0.24},{"p":13,"x":0.53,"y":0.228},{"p":13,"x":0.56,"y":0.228},{"p":13,"x":0.453,"y":0.367},{"p":13,"x":0.418,"y":0.354},{"p":13,"x":0.388,"y":0.329},{"p":13,"x":0.366,"y":0.304},{"p":13,"x":0.323,"y":0.278},{"p":13,"x":0.302,"y":0.253},{"p":13,"x":0.272,"y":0.228},{"p":13,"x":0.237,"y":0.19},{"p":13,"x":0.194,"y":0.177},{"p":13,"x":0.172,"y":0.152},{"p":13,"x":0.129,"y":0.127},{"p":13,"x":0.108,"y":0.089},{"p":13,"x":0.065,"y":0.051},{"p":13,"x":0.043,"y":0.025},{"p":13,"x":0.259,"y":0.266},{"p":13,"x":0.47,"y":0.32},{"p":13,"x":0.44,"y":0.3},{"p":13,"x":0.41,"y":0.28},{"p":13,"x":0.38,"y":0.25},{"p":13,"x":0.35,"y":0.23},{"p":13,"x":0.33,"y":0.21},{"p":13,"x":0.3,"y":0.19},{"p":13,"x":0.28,"y":0.17},{"p":13,"x":0.25,"y":0.15},{"p":13,"x":0.22,"y":0.13},{"p":13,"x":0.2,"y":0.12},{"p":13,"x":0.18,"y":0.1},{"p":13,"x":0.16,"y":0.09},{"p":13,"x":0.14,"y":0.07},{"p":13,"x":0.12,"y":0.06},{"p":13,"x":0.1,"y":0.05},{"p":13,"x":0.08,"y":0.03},{"p":13,"x":0.06,"y":0.02},{"p":13,"x":0.04,"y":0.01},{"p":13,"x":0.02,"y":0},{"p":13,"x":0.15,"y":0.11},{"p":13,"x":0.24,"y":0.2},{"p":13,"x":0.29,"y":0.22},{"p":13,"x":0.36,"y":0.26},{"p":13,"x":0.4,"y":0.23},{"p":13,"x":0.51,"y":0.34},{"p":13,"x":0.55,"y":0.3},{"p":13,"x":0.21,"y":0.16},{"p":13,"x":0.13,"y":0.09},{"p":13,"x":0.17,"y":0.12},{"p":13,"x":0.19,"y":0.14},{"p":13,"x":0.09,"y":0.06},
{"p":14,"x":0.987,"y":1},{"p":14,"x":1,"y":1},{"p":14,"x":0.888,"y":0.76},{"p":14,"x":0.953,"y":0.722},{"p":14,"x":0.871,"y":0.506},{"p":14,"x":0.751,"y":0.468},{"p":14,"x":0.6,"y":0.537},{"p":14,"x":0.657,"y":0.506},{"p":14,"x":0.678,"y":0.506},{"p":14,"x":0.6,"y":0.418},{"p":14,"x":0.622,"y":0.38},{"p":14,"x":0.644,"y":0.354},{"p":14,"x":0.579,"y":0.367},{"p":14,"x":0.558,"y":0.342},{"p":14,"x":0.536,"y":0.329},{"p":14,"x":0.6,"y":0.253},{"p":14,"x":0.494,"y":0.329},{"p":14,"x":0.451,"y":0.316},{"p":14,"x":0.429,"y":0.278},{"p":14,"x":0.442,"y":0.253},{"p":14,"x":0.408,"y":0.24},{"p":14,"x":0.365,"y":0.215},{"p":14,"x":0.451,"y":0.215},{"p":14,"x":0.343,"y":0.19},{"p":14,"x":0.3,"y":0.177},{"p":14,"x":0.258,"y":0.152},{"p":14,"x":0.215,"y":0.127},{"p":14,"x":0.172,"y":0.101},{"p":14,"x":0.129,"y":0.076},{"p":14,"x":0.086,"y":0.038},{"p":14,"x":0.043,"y":0.013},{"p":14,"x":0.386,"y":0.266},{"p":14,"x":0.52,"y":0.3},{"p":14,"x":0.5,"y":0.28},{"p":14,"x":0.48,"y":0.27},{"p":14,"x":0.47,"y":0.24},{"p":14,"x":0.42,"y":0.22},{"p":14,"x":0.39,"y":0.2},{"p":14,"x":0.36,"y":0.18},{"p":14,"x":0.33,"y":0.16},{"p":14,"x":0.31,"y":0.14},{"p":14,"x":0.28,"y":0.13},{"p":14,"x":0.25,"y":0.12},{"p":14,"x":0.23,"y":0.1},{"p":14,"x":0.2,"y":0.09},{"p":14,"x":0.18,"y":0.07},{"p":14,"x":0.16,"y":0.06},{"p":14,"x":0.14,"y":0.05},{"p":14,"x":0.11,"y":0.04},{"p":14,"x":0.09,"y":0.03},{"p":14,"x":0.07,"y":0.02},{"p":14,"x":0.05,"y":0.01},{"p":14,"x":0.02,"y":0},{"p":14,"x":0.32,"y":0.21},{"p":14,"x":0.27,"y":0.17},{"p":14,"x":0.55,"y":0.4},{"p":14,"x":0.62,"y":0.44},{"p":14,"x":0.4,"y":0.29},{"p":14,"x":0.7,"y":0.48},{"p":14,"x":0.19,"y":0.11},{"p":14,"x":0.22,"y":0.14},{"p":14,"x":0.26,"y":0.15},{"p":14,"x":0.12,"y":0.06},
{"p":15,"x":0.974,"y":1},{"p":15,"x":0.778,"y":0.765},{"p":15,"x":0.842,"y":0.752},{"p":15,"x":0.885,"y":0.544},{"p":15,"x":0.658,"y":0.481},{"p":15,"x":0.53,"y":0.532},{"p":15,"x":0.564,"y":0.511},{"p":15,"x":0.585,"y":0.506},{"p":15,"x":0.543,"y":0.425},{"p":15,"x":0.564,"y":0.392},{"p":15,"x":0.585,"y":0.367},{"p":15,"x":0.53,"y":0.38},{"p":15,"x":0.5,"y":0.354},{"p":15,"x":0.479,"y":0.329},{"p":15,"x":0.457,"y":0.304},{"p":15,"x":0.436,"y":0.284},{"p":15,"x":0.415,"y":0.278},{"p":15,"x":0.393,"y":0.253},{"p":15,"x":0.385,"y":0.228},{"p":15,"x":0.35,"y":0.203},{"p":15,"x":0.308,"y":0.165},{"p":15,"x":0.265,"y":0.127},{"p":15,"x":0.222,"y":0.089},{"p":15,"x":0.179,"y":0.051},{"p":15,"x":0.115,"y":0.025},{"p":15,"x":0.051,"y":0.005},{"p":15,"x":0.436,"y":0.241},{"p":15,"x":0.466,"y":0.215},{"p":15,"x":0.5,"y":0.266},{"p":15,"x":0.52,"y":0.31},{"p":15,"x":0.49,"y":0.3},{"p":15,"x":0.47,"y":0.27},{"p":15,"x":0.45,"y":0.25},{"p":15,"x":0.42,"y":0.24},{"p":15,"x":0.4,"y":0.22},{"p":15,"x":0.37,"y":0.2},{"p":15,"x":0.34,"y":0.18},{"p":15,"x":0.32,"y":0.17},{"p":15,"x":0.3,"y":0.14},{"p":15,"x":0.28,"y":0.13},{"p":15,"x":0.25,"y":0.11},{"p":15,"x":0.23,"y":0.1},{"p":15,"x":0.21,"y":0.08},{"p":15,"x":0.19,"y":0.06},{"p":15,"x":0.16,"y":0.04},{"p":15,"x":0.14,"y":0.03},{"p":15,"x":0.12,"y":0.02},{"p":15,"x":0.09,"y":0.01},{"p":15,"x":0.07,"y":0.01},{"p":15,"x":0.03,"y":0},{"p":15,"x":0.36,"y":0.23},{"p":15,"x":0.33,"y":0.2},{"p":15,"x":0.55,"y":0.35},{"p":15,"x":0.6,"y":0.45},{"p":15,"x":0.62,"y":0.42},{"p":15,"x":0.41,"y":0.26},{"p":15,"x":0.7,"y":0.5},{"p":15,"x":0.24,"y":0.12},{"p":15,"x":0.27,"y":0.14},{"p":15,"x":0.29,"y":0.16},{"p":15,"x":0.2,"y":0.07},
{"p":16,"x":0,"y":0},{"p":16,"x":0.05,"y":0.005},{"p":16,"x":0.06,"y":0.008},{"p":16,"x":0.076,"y":0.01},{"p":16,"x":0.316,"y":0.093},{"p":16,"x":0.33,"y":0.1},{"p":16,"x":0.35,"y":0.118},{"p":16,"x":0.37,"y":0.131},{"p":16,"x":0.38,"y":0.138},{"p":16,"x":0.4,"y":0.151},{"p":16,"x":0.42,"y":0.165},{"p":16,"x":0.44,"y":0.181},{"p":16,"x":0.46,"y":0.197},{"p":16,"x":0.48,"y":0.214},{"p":16,"x":0.5,"y":0.232},{"p":16,"x":0.52,"y":0.252},{"p":16,"x":0.54,"y":0.271},{"p":16,"x":0.56,"y":0.292},{"p":16,"x":0.58,"y":0.313},{"p":16,"x":0.6,"y":0.335},{"p":16,"x":0.62,"y":0.358},{"p":16,"x":0.64,"y":0.383},{"p":16,"x":0.66,"y":0.407},{"p":16,"x":0.68,"y":0.433},{"p":16,"x":0.7,"y":0.461},{"p":16,"x":0.72,"y":0.491},{"p":16,"x":0.735,"y":0.512},{"p":16,"x":0.75,"y":0.534},{"p":16,"x":0.755,"y":0.55},{"p":16,"x":0.77,"y":0.575},{"p":16,"x":0.78,"y":0.59},{"p":16,"x":0.83,"y":0.673},{"p":16,"x":1,"y":1},{"p":16,"x":0.325,"y":0.097},{"p":16,"x":0.34,"y":0.108},{"p":16,"x":0.36,"y":0.124},{"p":16,"x":0.39,"y":0.144},{"p":16,"x":0.41,"y":0.158},{"p":16,"x":0.43,"y":0.173},{"p":16,"x":0.45,"y":0.189},{"p":16,"x":0.47,"y":0.205},{"p":16,"x":0.49,"y":0.223},{"p":16,"x":0.51,"y":0.242},{"p":16,"x":0.53,"y":0.261},{"p":16,"x":0.55,"y":0.281},{"p":16,"x":0.57,"y":0.302},{"p":16,"x":0.59,"y":0.324},{"p":16,"x":0.61,"y":0.346},{"p":16,"x":0.63,"y":0.37},{"p":16,"x":0.65,"y":0.395},{"p":16,"x":0.67,"y":0.42},{"p":16,"x":0.69,"y":0.447},{"p":16,"x":0.71,"y":0.476},{"p":16,"x":0.725,"y":0.5},{"p":16,"x":0.745,"y":0.525},{"p":16,"x":0.765,"y":0.565},
{"p":17,"x":0,"y":0},{"p":17,"x":0.23,"y":0.165},{"p":17,"x":0.25,"y":0.18},{"p":17,"x":0.43,"y":0.33},{"p":17,"x":0.45,"y":0.35},{"p":17,"x":0.47,"y":0.37},{"p":17,"x":0.49,"y":0.39},{"p":17,"x":0.51,"y":0.41},{"p":17,"x":0.53,"y":0.43},{"p":17,"x":0.55,"y":0.455},{"p":17,"x":0.57,"y":0.48},{"p":17,"x":0.59,"y":0.5},{"p":17,"x":0.61,"y":0.525},{"p":17,"x":0.63,"y":0.545},{"p":17,"x":0.65,"y":0.57},{"p":17,"x":0.67,"y":0.595},{"p":17,"x":0.69,"y":0.615},{"p":17,"x":0.71,"y":0.64},{"p":17,"x":0.73,"y":0.665},{"p":17,"x":0.75,"y":0.69},{"p":17,"x":0.77,"y":0.715},{"p":17,"x":0.79,"y":0.74},{"p":17,"x":0.81,"y":0.76},{"p":17,"x":0.82,"y":0.77},{"p":17,"x":0.85,"y":0.8},{"p":17,"x":1,"y":1},{"p":17,"x":0.44,"y":0.34},{"p":17,"x":0.46,"y":0.36},{"p":17,"x":0.48,"y":0.38},{"p":17,"x":0.5,"y":0.4},{"p":17,"x":0.52,"y":0.42},{"p":17,"x":0.54,"y":0.442},{"p":17,"x":0.56,"y":0.467},{"p":17,"x":0.58,"y":0.49},{"p":17,"x":0.6,"y":0.512},{"p":17,"x":0.62,"y":0.535},{"p":17,"x":0.64,"y":0.557},{"p":17,"x":0.66,"y":0.582},{"p":17,"x":0.68,"y":0.605},{"p":17,"x":0.7,"y":0.628},{"p":17,"x":0.72,"y":0.652},{"p":17,"x":0.74,"y":0.677},{"p":17,"x":0.76,"y":0.702},{"p":17,"x":0.78,"y":0.727},{"p":17,"x":0.8,"y":0.75},
{"p":18,"x":0,"y":0},{"p":18,"x":0.23,"y":0.2},{"p":18,"x":0.26,"y":0.225},{"p":18,"x":0.44,"y":0.39},{"p":18,"x":0.46,"y":0.41},{"p":18,"x":0.48,"y":0.43},{"p":18,"x":0.5,"y":0.45},{"p":18,"x":0.52,"y":0.47},{"p":18,"x":0.54,"y":0.49},{"p":18,"x":0.56,"y":0.51},{"p":18,"x":0.58,"y":0.535},{"p":18,"x":0.6,"y":0.555},{"p":18,"x":0.62,"y":0.575},{"p":18,"x":0.64,"y":0.595},{"p":18,"x":0.66,"y":0.615},{"p":18,"x":0.68,"y":0.64},{"p":18,"x":0.7,"y":0.66},{"p":18,"x":0.72,"y":0.68},{"p":18,"x":0.74,"y":0.7},{"p":18,"x":0.76,"y":0.72},{"p":18,"x":0.78,"y":0.74},{"p":18,"x":0.8,"y":0.76},{"p":18,"x":0.82,"y":0.78},{"p":18,"x":0.84,"y":0.8},{"p":18,"x":0.87,"y":0.84},{"p":18,"x":1,"y":1},{"p":18,"x":0.45,"y":0.4},{"p":18,"x":0.47,"y":0.42},{"p":18,"x":0.49,"y":0.44},{"p":18,"x":0.51,"y":0.46},{"p":18,"x":0.53,"y":0.48},{"p":18,"x":0.55,"y":0.5},{"p":18,"x":0.57,"y":0.522},{"p":18,"x":0.59,"y":0.545},{"p":18,"x":0.61,"y":0.565},{"p":18,"x":0.63,"y":0.585},{"p":18,"x":0.65,"y":0.605},{"p":18,"x":0.67,"y":0.628},{"p":18,"x":0.69,"y":0.65},{"p":18,"x":0.71,"y":0.67},{"p":18,"x":0.73,"y":0.69},{"p":18,"x":0.75,"y":0.71},{"p":18,"x":0.77,"y":0.73},{"p":18,"x":0.79,"y":0.75},{"p":18,"x":0.81,"y":0.77},{"p":18,"x":0.83,"y":0.79},
{"p":19,"x":0,"y":0},{"p":19,"x":0.24,"y":0.21},{"p":19,"x":0.27,"y":0.24},{"p":19,"x":0.44,"y":0.41},{"p":19,"x":0.46,"y":0.43},{"p":19,"x":0.48,"y":0.45},{"p":19,"x":0.5,"y":0.47},{"p":19,"x":0.52,"y":0.49},{"p":19,"x":0.54,"y":0.51},{"p":19,"x":0.56,"y":0.53},{"p":19,"x":0.58,"y":0.55},{"p":19,"x":0.6,"y":0.57},{"p":19,"x":0.62,"y":0.59},{"p":19,"x":0.64,"y":0.61},{"p":19,"x":0.66,"y":0.63},{"p":19,"x":0.68,"y":0.65},{"p":19,"x":0.7,"y":0.67},{"p":19,"x":0.72,"y":0.69},{"p":19,"x":0.74,"y":0.71},{"p":19,"x":0.76,"y":0.73},{"p":19,"x":0.78,"y":0.75},{"p":19,"x":0.8,"y":0.77},{"p":19,"x":0.82,"y":0.79},{"p":19,"x":0.83,"y":0.8},{"p":19,"x":0.86,"y":0.83},{"p":19,"x":1,"y":1},{"p":19,"x":0.45,"y":0.42},{"p":19,"x":0.47,"y":0.44},{"p":19,"x":0.49,"y":0.46},{"p":19,"x":0.51,"y":0.48},{"p":19,"x":0.53,"y":0.5},{"p":19,"x":0.55,"y":0.52},{"p":19,"x":0.57,"y":0.54},{"p":19,"x":0.59,"y":0.56},{"p":19,"x":0.61,"y":0.58},{"p":19,"x":0.63,"y":0.6},{"p":19,"x":0.65,"y":0.62},{"p":19,"x":0.67,"y":0.64},{"p":19,"x":0.69,"y":0.66},{"p":19,"x":0.71,"y":0.68},{"p":19,"x":0.73,"y":0.7},{"p":19,"x":0.75,"y":0.72},{"p":19,"x":0.77,"y":0.74},{"p":19,"x":0.79,"y":0.76},{"p":19,"x":0.81,"y":0.78},
{"p":20,"x":0,"y":0},{"p":20,"x":0.237,"y":0.222},{"p":20,"x":0.267,"y":0.257},{"p":20,"x":0.435,"y":0.413},{"p":20,"x":0.45,"y":0.428},{"p":20,"x":0.47,"y":0.448},{"p":20,"x":0.49,"y":0.468},{"p":20,"x":0.51,"y":0.488},{"p":20,"x":0.53,"y":0.508},{"p":20,"x":0.55,"y":0.528},{"p":20,"x":0.57,"y":0.548},{"p":20,"x":0.59,"y":0.568},{"p":20,"x":0.61,"y":0.588},{"p":20,"x":0.63,"y":0.608},{"p":20,"x":0.65,"y":0.628},{"p":20,"x":0.67,"y":0.648},{"p":20,"x":0.69,"y":0.668},{"p":20,"x":0.71,"y":0.69},{"p":20,"x":0.73,"y":0.71},{"p":20,"x":0.75,"y":0.73},{"p":20,"x":0.77,"y":0.755},{"p":20,"x":0.79,"y":0.78},{"p":20,"x":0.806,"y":0.798},{"p":20,"x":0.846,"y":0.839},{"p":20,"x":1,"y":1},{"p":20,"x":0.44,"y":0.418},{"p":20,"x":0.46,"y":0.438},{"p":20,"x":0.48,"y":0.458},{"p":20,"x":0.5,"y":0.478},{"p":20,"x":0.52,"y":0.498},{"p":20,"x":0.54,"y":0.518},{"p":20,"x":0.56,"y":0.538},{"p":20,"x":0.58,"y":0.558},{"p":20,"x":0.6,"y":0.578},{"p":20,"x":0.62,"y":0.598},{"p":20,"x":0.64,"y":0.618},{"p":20,"x":0.66,"y":0.638},{"p":20,"x":0.68,"y":0.658},{"p":20,"x":0.7,"y":0.679},{"p":20,"x":0.72,"y":0.7},{"p":20,"x":0.74,"y":0.72},{"p":20,"x":0.76,"y":0.742},{"p":20,"x":0.78,"y":0.768},{"p":20,"x":0.8,"y":0.79}
]},
"spacing":15,
"vconcat":[
{"title":{"text":"a","offset":-10,"dx":-4},"spacing":21,"vconcat":[
{"data":{"name":"pts"},"transform":[{"filter":"datum.p>=1 && datum.p<=5"}],
"facet":{"column":{"field":"p","type":"ordinal","header":{"labelExpr":"['T= 5 min','T= 10 min','T= 15 min','T= 20 min','T= 25 min','T= 1 hr','T= 2 hr','T= 4 hr','T= 8 hr','T= 12 hr'][(datum.value-1)%10]","labelPadding":5}}},
"spacing":{"column":11},"resolve":{"axis":{"x":"independent","y":"independent"}},
"spec":{"width":167,"height":132,"mark":{"type":"point","filled":false,"size":18,"strokeWidth":1,"color":"#111111","clip":false},
"encoding":{"x":{"field":"x","type":"quantitative","scale":{"domain":[0,1],"nice":false,"zero":false},"axis":{"title":"mRNA level","values":[0,0.5,1],"format":"~g","labelPadding":6,"titlePadding":2,"labelFlush":false}},
"y":{"field":"y","type":"quantitative","scale":{"domain":[0,1],"nice":false,"zero":false},"axis":{"title":"Protein level","values":[0,0.2,0.4,0.6,0.8,1],"format":"~g","labelPadding":9,"titlePadding":-2,"labelFlush":false}}}}},
{"data":{"name":"pts"},"transform":[{"filter":"datum.p>=6 && datum.p<=10"}],
"facet":{"column":{"field":"p","type":"ordinal","header":{"labelExpr":"['T= 5 min','T= 10 min','T= 15 min','T= 20 min','T= 25 min','T= 1 hr','T= 2 hr','T= 4 hr','T= 8 hr','T= 12 hr'][(datum.value-1)%10]","labelPadding":-5}}},
"spacing":{"column":11},"resolve":{"axis":{"x":"independent","y":"independent"}},
"spec":{"width":167,"height":132,"mark":{"type":"point","filled":false,"size":18,"strokeWidth":1,"color":"#111111","clip":false},
"encoding":{"x":{"field":"x","type":"quantitative","scale":{"domain":[0,1],"nice":false,"zero":false},"axis":{"title":"mRNA level","values":[0,0.5,1],"format":"~g","labelPadding":6,"titlePadding":2,"labelFlush":false}},
"y":{"field":"y","type":"quantitative","scale":{"domain":[0,1],"nice":false,"zero":false},"axis":{"title":"Protein level","values":[0,0.2,0.4,0.6,0.8,1],"format":"~g","labelPadding":9,"titlePadding":-2,"labelFlush":false}}}}}
]},
{"title":{"text":"b","offset":-15,"dx":-4},"spacing":25,"vconcat":[
{"data":{"name":"pts"},"transform":[{"filter":"datum.p>=11 && datum.p<=15"}],
"facet":{"column":{"field":"p","type":"ordinal","header":{"labelExpr":"['T= 5 min','T= 10 min','T= 15 min','T= 20 min','T= 25 min','T= 1 hr','T= 2 hr','T= 4 hr','T= 8 hr','T= 12 hr'][(datum.value-1)%10]","labelPadding":3}}},
"spacing":{"column":11},"resolve":{"axis":{"x":"independent","y":"independent"}},
"spec":{"width":167,"height":132,"mark":{"type":"point","filled":false,"size":18,"strokeWidth":0.9,"color":"#2d5fb5","strokeOpacity":0.8,"clip":false},
"encoding":{"x":{"field":"x","type":"quantitative","scale":{"domain":[0,1],"nice":false,"zero":false},"axis":{"title":"mRNA level","values":[0,0.5,1],"format":"~g","labelPadding":6,"titlePadding":2,"labelFlush":false}},
"y":{"field":"y","type":"quantitative","scale":{"domain":[0,1],"nice":false,"zero":false},"axis":{"title":"Protein level","values":[0,0.2,0.4,0.6,0.8,1],"format":"~g","labelPadding":9,"titlePadding":-2,"labelFlush":false}}}}},
{"data":{"name":"pts"},"transform":[{"filter":"datum.p>=16 && datum.p<=20"}],
"facet":{"column":{"field":"p","type":"ordinal","header":{"labelExpr":"['T= 5 min','T= 10 min','T= 15 min','T= 20 min','T= 25 min','T= 1 hr','T= 2 hr','T= 4 hr','T= 8 hr','T= 12 hr'][(datum.value-1)%10]","labelPadding":12}}},
"spacing":{"column":6},"resolve":{"axis":{"x":"independent","y":"independent"}},
"spec":{"width":167,"height":132,"mark":{"type":"point","filled":false,"size":18,"strokeWidth":0.9,"color":"#2d5fb5","strokeOpacity":0.8,"clip":false},
"encoding":{"x":{"field":"x","type":"quantitative","scale":{"domain":[0,1],"nice":false,"zero":false},"axis":{"title":"mRNA level","values":[0,0.5,1],"format":"~g","labelPadding":6,"titlePadding":2,"labelFlush":false}},
"y":{"field":"y","type":"quantitative","scale":{"domain":[0,1],"nice":false,"zero":false},"axis":{"title":"Protein level","values":[0,0.2,0.4,0.6,0.8,1],"format":"~g","labelPadding":9,"titlePadding":3,"labelFlush":false}}}}}
]}
]
}
